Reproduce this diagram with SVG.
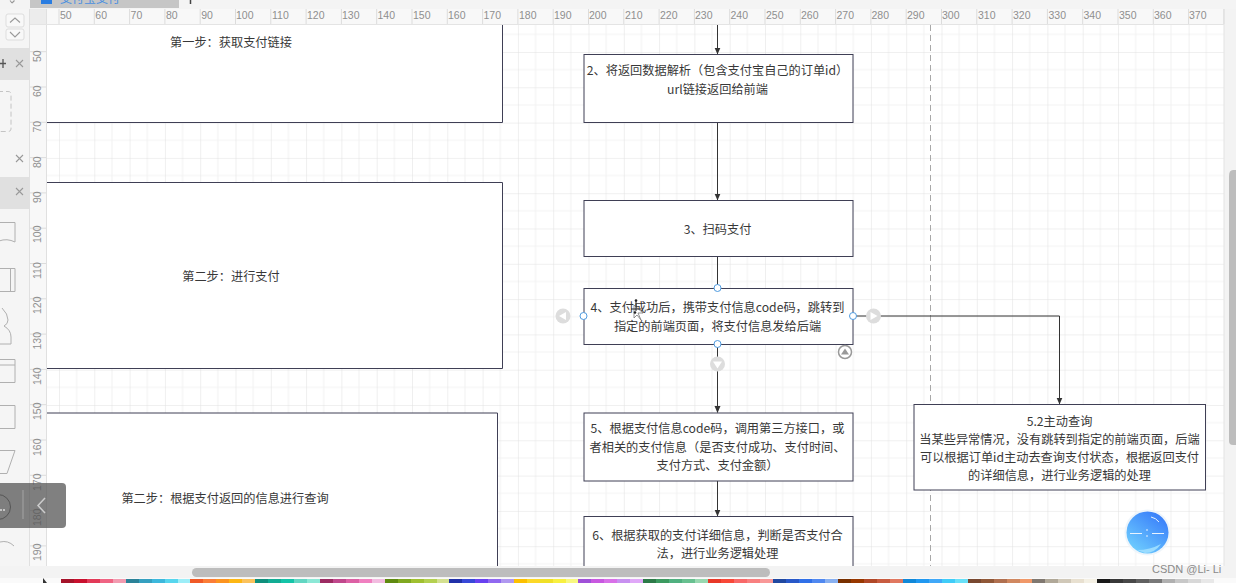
<svg xmlns="http://www.w3.org/2000/svg" width="1236" height="583" viewBox="0 0 1236 583">
<style>
.t{font-family:"Noto Sans CJK SC","Noto Sans",sans-serif;font-size:12.2px;fill:#383838;text-anchor:middle}
.r{font-family:"Liberation Sans",sans-serif;font-size:10.5px;fill:#8f8f8f}
.b{fill:#fff;stroke:#3f3f55;stroke-width:1}
.w{fill:#fff}
.e{fill:none;stroke:#3f3f55;stroke-width:1}
.c{fill:none;stroke:#333;stroke-width:1}
.h{fill:#fff;stroke:#4f9be0;stroke-width:1}
.g{fill:#ddd}
.s{fill:none;stroke:#b0b0b0;stroke-width:1}
.x{fill:none;stroke:#999;stroke-width:1.1}
</style>
<defs>
<pattern id="grid" x="59" y="16.7" width="35.3" height="35.3" patternUnits="userSpaceOnUse">
<rect width="35.3" height="35.3" fill="#fff"/>
<path d="M17.65 0V35.3M0 17.65H35.3" fill="none" stroke="#f3f3f3" stroke-width="1"/>
<path d="M0 0V35.3M0 0H35.3" fill="none" stroke="#e1e1e1" stroke-width="1"/>
</pattern>
<marker id="arrow" markerWidth="8" markerHeight="8" refX="6.5" refY="3" orient="auto" markerUnits="userSpaceOnUse">
<path d="M0 0L7 3L0 6Z" fill="#333"/>
</marker>
<linearGradient id="ball" x1="0.8" y1="0.1" x2="0.2" y2="0.9">
<stop offset="0" stop-color="#3a80fa"/><stop offset="1" stop-color="#6ccafe"/>
</linearGradient>
</defs>

<rect width="1236" height="583" fill="#f3f3f3"/>
<rect x="47" y="25" width="1177" height="541" fill="url(#grid)"/>

<!-- top bar -->
<rect x="0" y="0" width="1236" height="9" fill="#f4f4f4"/>
<rect x="30" y="0" width="149" height="8" fill="#c6c6c6"/>
<rect x="41" y="0" width="11" height="4" fill="#2a7de1"/>
<text x="60" y="3" font-family="Noto Sans CJK SC,sans-serif" font-size="12" fill="#4a8fe0">支付宝支付</text>
<path d="M190.500 0V4" stroke="#444" stroke-width="1.500" fill="none"/>
<path d="M12 3L14.500 0.500M12 3L10 0.500" class="x"/>

<!-- rulers -->
<rect x="30" y="9" width="1194" height="16" fill="#f8f8f8"/>
<rect x="30" y="25" width="17" height="541" fill="#f8f8f8"/>
<rect x="30" y="9" width="17" height="16" fill="#ececec"/>
<path d="M29.500 9V566M46.500 9V566" stroke="#e0e0e0" fill="none"/>
<path d="M30 24.500H1224M1224 9V566" stroke="#e4e4e4" fill="none"/>
<path d="M59 9V24M94.300 9V24M129.600 9V24M164.900 9V24M200.200 9V24M235.500 9V24M270.800 9V24M306.100 9V24M341.400 9V24M376.700 9V24M412 9V24M447.300 9V24M482.600 9V24M517.900 9V24M553.200 9V24M588.500 9V24M623.800 9V24M659.100 9V24M694.400 9V24M729.700 9V24M765 9V24M800.300 9V24M835.600 9V24M870.900 9V24M906.200 9V24M941.500 9V24M976.800 9V24M1012.100 9V24M1047.400 9V24M1082.700 9V24M1118 9V24M1153.300 9V24M1188.600 9V24M1223.900 9V24" stroke="#dcdcdc" fill="none"/>
<g>
<text class="r" x="60" y="19">50</text><text class="r" x="95.300" y="19">60</text><text class="r" x="130.600" y="19">70</text><text class="r" x="165.900" y="19">80</text><text class="r" x="201.200" y="19">90</text><text class="r" x="236" y="19">100</text><text class="r" x="272" y="19">110</text><text class="r" x="307" y="19">120</text><text class="r" x="342" y="19">130</text><text class="r" x="377.500" y="19">140</text><text class="r" x="413" y="19">150</text><text class="r" x="448" y="19">160</text><text class="r" x="483.500" y="19">170</text><text class="r" x="519" y="19">180</text><text class="r" x="554" y="19">190</text><text class="r" x="589" y="19">200</text><text class="r" x="625" y="19">210</text><text class="r" x="660" y="19">220</text><text class="r" x="695" y="19">230</text><text class="r" x="730.500" y="19">240</text><text class="r" x="766" y="19">250</text><text class="r" x="801" y="19">260</text><text class="r" x="836.500" y="19">270</text><text class="r" x="871.500" y="19">280</text><text class="r" x="907" y="19">290</text><text class="r" x="942" y="19">300</text><text class="r" x="978" y="19">310</text><text class="r" x="1013" y="19">320</text><text class="r" x="1048.500" y="19">330</text><text class="r" x="1083.500" y="19">340</text><text class="r" x="1119" y="19">350</text><text class="r" x="1154" y="19">360</text><text class="r" x="1189" y="19">370</text>
</g>
<path d="M30 51.700H46M30 87H46M30 122.300H46M30 157.600H46M30 192.900H46M30 228.200H46M30 263.500H46M30 298.800H46M30 334.100H46M30 369.400H46M30 404.700H46M30 440H46M30 475.300H46M30 510.600H46M30 545.900H46" stroke="#dcdcdc" fill="none"/>
<g>
<text class="r" transform="translate(41 62) rotate(-90)">50</text>
<text class="r" transform="translate(41 97) rotate(-90)">60</text>
<text class="r" transform="translate(41 132.500) rotate(-90)">70</text>
<text class="r" transform="translate(41 168) rotate(-90)">80</text>
<text class="r" transform="translate(41 203) rotate(-90)">90</text>
<text class="r" transform="translate(41 243) rotate(-90)">100</text>
<text class="r" transform="translate(41 279) rotate(-90)">110</text>
<text class="r" transform="translate(41 314) rotate(-90)">120</text>
<text class="r" transform="translate(41 349.500) rotate(-90)">130</text>
<text class="r" transform="translate(41 385) rotate(-90)">140</text>
<text class="r" transform="translate(41 420) rotate(-90)">150</text>
<text class="r" transform="translate(41 456) rotate(-90)">160</text>
<text class="r" transform="translate(41 491) rotate(-90)">170</text>
<text class="r" transform="translate(41 526) rotate(-90)">180</text>
<text class="r" transform="translate(41 561) rotate(-90)">190</text>
</g>

<!-- left shape panel -->
<rect x="0" y="9" width="29" height="557" fill="#f5f5f5"/>
<rect x="6" y="14" width="18" height="13" rx="2" fill="#f8f8f8" stroke="#ddd"/>
<rect x="6" y="29" width="18" height="11" rx="2" fill="#f8f8f8" stroke="#ddd"/>
<path d="M10 22.500L15 18L20 22.500M10 32L15 37L20 32" class="x"/>
<rect x="0" y="48" width="29" height="32" fill="#e0e0e0"/>
<path d="M0 63.500H6M3 59V68" stroke="#555" stroke-width="1.300" fill="none"/>
<path d="M16 60L23 67M23 60L16 67" class="x"/>
<path d="M-2 91.500H8Q11 91.500 11 94V129Q11 131.500 8 131.500H-2" fill="none" stroke="#c4c4c4" stroke-dasharray="5 3"/>
<path d="M16 155L23 162M23 155L16 162" class="x"/>
<rect x="0" y="177" width="29" height="32" fill="#e0e0e0"/>
<path d="M16 188L23 195M23 188L16 195" class="x"/>
<path d="M-1 222.500H15V242Q7 238 -1 241" class="s"/>
<path d="M-1 268.500H15V291.500H-1M10.500 268.500V291.500" class="s"/>
<path d="M2 308Q8 314 8 320Q8 324 4 326Q11 330 11 337V344H-1" class="s"/>
<path d="M-1 359.500H15V382.500H-1M-1 365H15" class="s"/>
<path d="M-1 405.500H15V428.500H-1" class="s"/>
<path d="M-1 450.500H15L7 473.500H-1" class="s"/>
<path d="M0 542Q8 540 14 546" class="s"/>

<!-- canvas artefacts -->
<path d="M930.500 25V566" stroke="#a8a8a8" stroke-width="1" stroke-dasharray="6 4" fill="none"/>

<!-- connectors -->
<g id="connectors">
<path class="c" d="M717.500 25V54" marker-end="url(#arrow)"/>
<path class="c" d="M717.500 122.500V200" marker-end="url(#arrow)"/>
<path class="c" d="M717.500 256.500V288"/>
<path class="c" d="M717.500 344.500V412.500" marker-end="url(#arrow)"/>
<path class="c" d="M717.500 481V516" marker-end="url(#arrow)"/>
<path class="c" d="M853 316H1059.500V404" marker-end="url(#arrow)"/>
</g>

<!-- nodes -->
<g id="step1"><rect class="w" x="47" y="25" width="455.500" height="97.500"/><path class="e" d="M47 122.500H502.500V25"/><text class="t" x="231" y="47">第一步&#xFF1A;获取支付链接</text></g>
<g id="step2"><rect class="w" x="47" y="182.500" width="455.500" height="186"/><path class="e" d="M47 182.500H502.500V368.500H47"/><text class="t" x="231" y="281">第二步&#xFF1A;进行支付</text></g>
<g id="step3"><rect class="w" x="47" y="413" width="450.500" height="153"/><path class="e" d="M47 413H497.500V566"/><text class="t" x="225" y="503">第二步&#xFF1A;根据支付返回的信息进行查询</text></g>
<g id="n2"><rect class="b" x="584" y="54.500" width="269" height="68"/><text class="t" x="717.500" y="75">2、将返回数据解析&#xFF08;包含支付宝自己的订单id&#xFF09;</text><text class="t" x="717.500" y="94">url链接返回给前端</text></g>
<g id="n3"><rect class="b" x="584" y="200.500" width="269" height="56"/><text class="t" x="717.500" y="233.500">3、扫码支付</text></g>
<g id="n4"><rect class="b" x="584" y="288.500" width="269" height="56"/><text class="t" x="717.500" y="312">4、支付成功后&#xFF0C;携带支付信息code码&#xFF0C;跳转到</text><text class="t" x="717.500" y="331">指定的前端页面&#xFF0C;将支付信息发给后端</text></g>
<g id="n5"><rect class="b" x="584" y="413" width="269" height="68"/><text class="t" x="717.500" y="433">5、根据支付信息code码&#xFF0C;调用第三方接口&#xFF0C;或</text><text class="t" x="717.500" y="452">者相关的支付信息&#xFF08;是否支付成功、支付时间、</text><text class="t" x="717.500" y="470">支付方式、支付金额&#xFF09;</text></g>
<g id="n6"><rect class="b" x="584" y="516.500" width="269" height="60"/><text class="t" x="717.500" y="540">6、根据获取的支付详细信息&#xFF0C;判断是否支付合</text><text class="t" x="717.500" y="558">法&#xFF0C;进行业务逻辑处理</text></g>
<g id="n52"><rect class="b" x="914" y="404.500" width="291.500" height="85.500"/><text class="t" x="1059.500" y="425.500">5.2主动查询</text><text class="t" x="1059.500" y="443.500">当某些异常情况&#xFF0C;没有跳转到指定的前端页面&#xFF0C;后端</text><text class="t" x="1059.500" y="461.500">可以根据订单id主动去查询支付状态&#xFF0C;根据返回支付</text><text class="t" x="1059.500" y="479.500">的详细信息&#xFF0C;进行业务逻辑的处理</text></g>

<!-- bottom bands -->
<rect x="0" y="566" width="1236" height="17" fill="#f3f3f3"/>
<rect x="192" y="568" width="578" height="9" rx="4.500" fill="#bdbdbd"/>
<path d="M1229 176Q1229 170 1233 170H1236V445H1233Q1229 445 1229 441Z" fill="#bdbdbd"/>

<!-- selection handles -->
<circle class="h" cx="717.500" cy="288" r="3.500"/>
<circle class="h" cx="717.500" cy="344" r="3.500"/>
<circle class="h" cx="583.500" cy="316" r="3.500"/>
<circle class="h" cx="853" cy="316" r="3.500"/>
<circle class="g" cx="563" cy="316" r="7.500"/><path d="M559 316L566 312V320Z" fill="#fff"/>
<circle class="g" cx="873.500" cy="316" r="7.500"/><path d="M877.500 316L870.500 312V320Z" fill="#fff"/>
<circle class="g" cx="717.500" cy="364" r="7.500"/><path d="M717.500 368.500L713 361.500H722Z" fill="#fff"/>
<circle cx="845" cy="352" r="6.500" fill="#fff" stroke="#999" stroke-width="1.500"/><path d="M845 348.500L841 354.500H849Z" fill="#999"/>
<!-- cursor -->
<path d="M634 305L634 318L637 315L641 320L638 313L643 313Z" fill="#fff" stroke="#777" stroke-width="0.800"/>
<path d="M636 300V311M631 309H641" stroke="#222" stroke-width="1" fill="none"/>
<circle cx="636" cy="300.500" r="1.300" fill="#222"/><circle cx="635" cy="312.500" r="1.300" fill="#222"/>

<!-- left overlay -->
<rect x="-4" y="483" width="70" height="45" rx="4" fill="#555" fill-opacity="0.75"/>
<circle cx="-2" cy="507" r="12.500" fill="none" stroke="#555"/>
<circle cx="1" cy="510" r="1" fill="#ddd"/><circle cx="4" cy="510" r="1" fill="#ddd"/>
<path d="M23 490V519" stroke="#999" stroke-width="1.500" fill="none"/>
<path d="M45 498L38 505.500L45 513" fill="none" stroke="#ccc" stroke-width="1.500"/>

<!-- zoom ball -->
<circle cx="1147.500" cy="532.500" r="23" fill="#eef5fb"/>
<circle cx="1147.500" cy="532.500" r="21" fill="url(#ball)"/>
<path d="M1130 533.500H1142M1152 533.500H1164M1147 529V531M1147 535V537" stroke="#e8f3ff" stroke-width="1" fill="none"/>
<path d="M1151 517Q1156 518 1159 522" stroke="#e8f3ff" stroke-width="1" fill="none"/>
<path d="M1137 550Q1150 550 1161 544Q1155 553 1145 553Z" fill="#9adcff"/>

<!-- watermark -->
<text x="1152" y="573" font-family="Liberation Sans,sans-serif" font-size="11" fill="#8a8a8a">CSDN @Li- Li</text>

<!-- palette -->
<g id="palette">
<rect x="0" y="578" width="1236" height="5" fill="#fafafa"/>
<path d="M43 578L47 583H43Z" fill="#333"/>
<rect x="61" y="579" width="13" height="4" fill="#a5132a"/><rect x="74" y="579" width="13" height="4" fill="#c8102e"/><rect x="87" y="579" width="13" height="4" fill="#e23a58"/><rect x="100" y="579" width="13" height="4" fill="#ef6483"/><rect x="113" y="579" width="13" height="4" fill="#f29bb0"/>
<rect x="126" y="579" width="13" height="4" fill="#2b8298"/><rect x="139" y="579" width="13" height="4" fill="#35a0c0"/><rect x="152" y="579" width="13" height="4" fill="#3db8dc"/><rect x="165" y="579" width="13" height="4" fill="#57d6ee"/><rect x="178" y="579" width="13" height="4" fill="#9deef8"/>
<rect x="190" y="579" width="13" height="4" fill="#f05a28"/><rect x="203" y="579" width="13" height="4" fill="#fb7d37"/><rect x="216" y="579" width="13" height="4" fill="#fc9420"/><rect x="229" y="579" width="13" height="4" fill="#fdb714"/><rect x="242" y="579" width="13" height="4" fill="#fbc25c"/>
<rect x="255" y="579" width="13" height="4" fill="#0f8f7c"/><rect x="268" y="579" width="13" height="4" fill="#12ac94"/><rect x="281" y="579" width="13" height="4" fill="#14c4a8"/><rect x="294" y="579" width="13" height="4" fill="#62d6c2"/><rect x="307" y="579" width="13" height="4" fill="#8ce8d6"/>
<rect x="320" y="579" width="13" height="4" fill="#9c2b62"/><rect x="333" y="579" width="13" height="4" fill="#c0488c"/><rect x="346" y="579" width="13" height="4" fill="#dc60a4"/><rect x="359" y="579" width="13" height="4" fill="#f080c0"/><rect x="372" y="579" width="13" height="4" fill="#f2bce0"/>
<rect x="385" y="579" width="13" height="4" fill="#5f8a10"/><rect x="398" y="579" width="13" height="4" fill="#80a820"/><rect x="411" y="579" width="13" height="4" fill="#a0c030"/><rect x="424" y="579" width="13" height="4" fill="#b4d050"/><rect x="437" y="579" width="13" height="4" fill="#d4e090"/>
<rect x="449" y="579" width="13" height="4" fill="#2030a8"/><rect x="462" y="579" width="13" height="4" fill="#3848d8"/><rect x="475" y="579" width="13" height="4" fill="#6840f0"/><rect x="488" y="579" width="13" height="4" fill="#9068f0"/><rect x="501" y="579" width="13" height="4" fill="#b098f0"/>
<rect x="514" y="579" width="13" height="4" fill="#fcc000"/><rect x="527" y="579" width="13" height="4" fill="#fcd828"/><rect x="540" y="579" width="13" height="4" fill="#f0e028"/><rect x="553" y="579" width="13" height="4" fill="#f8f040"/><rect x="566" y="579" width="13" height="4" fill="#f8f880"/>
<rect x="578" y="579" width="13" height="4" fill="#a050d8"/><rect x="591" y="579" width="13" height="4" fill="#c858e0"/><rect x="604" y="579" width="13" height="4" fill="#d870e8"/><rect x="617" y="579" width="13" height="4" fill="#c890f0"/><rect x="630" y="579" width="13" height="4" fill="#e0a8f8"/>
<rect x="643" y="579" width="13" height="4" fill="#2c7a48"/><rect x="656" y="579" width="13" height="4" fill="#3c9a60"/><rect x="669" y="579" width="13" height="4" fill="#50b080"/><rect x="682" y="579" width="13" height="4" fill="#68c090"/><rect x="695" y="579" width="13" height="4" fill="#98d8b0"/>
<rect x="708" y="579" width="13" height="4" fill="#e83828"/><rect x="721" y="579" width="13" height="4" fill="#f84838"/><rect x="734" y="579" width="13" height="4" fill="#f86868"/><rect x="747" y="579" width="13" height="4" fill="#f88080"/><rect x="760" y="579" width="13" height="4" fill="#f89898"/>
<rect x="773" y="579" width="13" height="4" fill="#2048a0"/><rect x="786" y="579" width="13" height="4" fill="#2858c8"/><rect x="799" y="579" width="13" height="4" fill="#3070e8"/><rect x="812" y="579" width="13" height="4" fill="#5088f0"/><rect x="825" y="579" width="13" height="4" fill="#88b0f0"/>
<rect x="838" y="579" width="13" height="4" fill="#783000"/><rect x="851" y="579" width="13" height="4" fill="#983800"/><rect x="864" y="579" width="13" height="4" fill="#b04828"/><rect x="877" y="579" width="13" height="4" fill="#c85c40"/><rect x="890" y="579" width="13" height="4" fill="#e07860"/>
<rect x="903" y="579" width="13" height="4" fill="#1088d8"/><rect x="916" y="579" width="13" height="4" fill="#2098f0"/><rect x="929" y="579" width="13" height="4" fill="#40a8f8"/><rect x="942" y="579" width="13" height="4" fill="#40ccf8"/><rect x="955" y="579" width="13" height="4" fill="#68e0f8"/>
<rect x="968" y="579" width="13" height="4" fill="#784830"/><rect x="981" y="579" width="13" height="4" fill="#905838"/><rect x="994" y="579" width="13" height="4" fill="#b07050"/><rect x="1007" y="579" width="13" height="4" fill="#d08860"/><rect x="1020" y="579" width="13" height="4" fill="#f09868"/>
<rect x="1032" y="579" width="13" height="4" fill="#807870"/><rect x="1045" y="579" width="13" height="4" fill="#b0a898"/><rect x="1058" y="579" width="13" height="4" fill="#d0c8b8"/><rect x="1071" y="579" width="13" height="4" fill="#e8e0d0"/><rect x="1084" y="579" width="13" height="4" fill="#f4f0e4"/>
<rect x="1097" y="579" width="13" height="4" fill="#181818"/><rect x="1110" y="579" width="13" height="4" fill="#383838"/><rect x="1123" y="579" width="13" height="4" fill="#484848"/><rect x="1136" y="579" width="13" height="4" fill="#606060"/><rect x="1149" y="579" width="13" height="4" fill="#787878"/><rect x="1162" y="579" width="13" height="4" fill="#b0b0b0"/><rect x="1175" y="579" width="13" height="4" fill="#c8c8c8"/><rect x="1188" y="579" width="13" height="4" fill="#d8d8d8"/><rect x="1201" y="579" width="13" height="4" fill="#e8e8e8"/>
</g>
</svg>
